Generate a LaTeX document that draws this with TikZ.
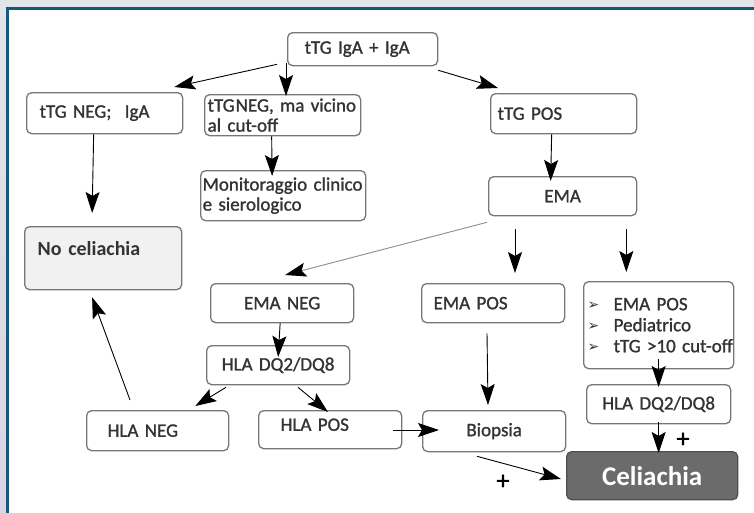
\documentclass[tikz,border=0pt]{standalone}
\usepackage{fontspec}
\setmainfont{Carlito}[WordSpace=0.8, UprightFeatures={RawFeature={embolden=1.2}}]
\newfontfamily\symfont{DejaVu Sans}
\usetikzlibrary{arrows.meta,positioning}
\definecolor{frameblue}{HTML}{14587A}
\definecolor{outertop}{HTML}{E1E4E8}
\definecolor{outerbot}{HTML}{DAD4E4}
\definecolor{edge}{HTML}{777777}
\definecolor{pale}{HTML}{F1F1F1}
\definecolor{dark}{HTML}{6B6B6B}
\definecolor{darkedge}{HTML}{4F4F4F}
\definecolor{faint}{HTML}{8C8C8C}
\definecolor{ink}{HTML}{333333}
\newcommand{\bul}{\makebox[26pt][l]{\raisebox{1pt}{\symfont\fontsize{14}{14}\selectfont ➢}}}
\tikzset{
  box/.style={draw=edge, fill=white, rounded corners=5pt, line width=1.3pt, text=ink,
              anchor=north west, inner ysep=0pt, font=\fontsize{19}{20}\selectfont},
  lbox/.style={box, align=left},
  cbox/.style={box, align=center},
  palebox/.style={lbox, fill=pale, font=\bfseries\fontsize{20}{21}\selectfont},
  darkbox/.style={cbox, fill=dark, draw=darkedge, text=white,
                  font=\bfseries\fontsize{27}{30}\selectfont},
  ar/.style={-{Stealth[length=21pt, width=14pt, inset=4pt, color=black]}, line width=0.9pt, draw=black},
  arlt/.style={ar, draw=faint},
  plus/.style={font=\fontsize{26}{26}\selectfont, inner sep=0pt}
}

\begin{document}
\begin{tikzpicture}[x=1pt, y=-1pt]
  \useasboundingbox (0,0) rectangle (754,512);
  \clip (0,0) rectangle (754,512);
  \shade[top color=outertop, bottom color=outerbot] (0,0) rectangle (754,512);
  \draw[frameblue, line width=3pt, fill=white] (7.5,8.5) rectangle (800,560);

  % first row
  \node[lbox, minimum height=33pt, text width=116pt, inner xsep=17pt] (igA) at (287,32) {tTG IgA + IgA};
  \node[lbox, minimum height=41pt, text width=130pt, inner xsep=13pt] (negiga) at (26,92) {tTG NEG;\hspace{0.7em}IgA};
  \node[lbox, minimum height=41pt, text width=150pt, inner xsep=3pt] (negcut) at (204,94)
        {\mbox{tTG\hspace{1pt}NEG, ma vicino}\\al cut-off};
  \node[lbox, minimum height=40pt, text width=132pt, inner xsep=7pt] (pos) at (490,93) {tTG POS};

  \node[lbox, minimum height=50pt, text width=161pt, inner xsep=2pt] (monit) at (200,170) {Monitoraggio clinico\\e sierologico};
  \node[cbox, minimum height=39pt, text width=138pt, inner xsep=5pt] (ema) at (488,176) {EMA};
  \node[palebox, minimum height=63pt, text width=131pt, inner xsep=13pt, text depth=20pt] (noceli) at (24,226) {No celiachia};

  % EMA results
  \node[cbox, minimum height=39pt, text width=133pt, inner xsep=5pt] (emaneg) at (210,283) {EMA NEG};
  \node[lbox, minimum height=39pt, text width=119pt, inner xsep=12pt] (emapos) at (421,283) {EMA POS};
  \node[lbox, minimum height=87pt, text width=142pt, inner xsep=4pt,
        font=\fontsize{19}{21}\selectfont] (crit) at (583,281)
        {\mbox{\bul EMA POS}\\\mbox{\bul Pediatrico}\\\mbox{\bul tTG >10 cut-off}};

  \node[cbox, minimum height=39pt, text width=133pt, inner xsep=5pt] (hlamid) at (206,345) {HLA DQ2/DQ8};
  \node[cbox, minimum height=39pt, text width=134pt, inner xsep=5pt] (hlaright) at (586,384) {HLA DQ2/DQ8};

  % last row
  \node[lbox, minimum height=40pt, text width=100pt, inner xsep=21pt] (hlaneg) at (86,410) {HLA NEG};
  \node[lbox, minimum height=38pt, text width=99pt, inner xsep=22pt, text depth=10pt] (hlapos) at (258,410) {HLA POS};
  \node[cbox, minimum height=41pt, text width=133pt, inner xsep=5pt] (biopsia) at (422,410) {Biopsia};
  \node[darkbox, minimum height=48pt, text width=161pt, inner xsep=5pt] (celi) at (566,451) {Celiachia};

  \node[plus] (plusa) at (683,440) {+};
  \node[plus] (plusb) at (503,482) {+};

  % arrows
  \draw[ar] ([shift={(-10,-2)}]igA.south west) -- ([shift={(-9,-5)}]negiga.north east);
  \draw[ar] ([shift={(-1,-3)}]igA.south west) -- ([shift={(82,2)}]negcut.north west);
  \draw[ar] ([shift={(0,4)}]igA.south east) -- ([shift={(8,-5)}]pos.north west);
  \draw[ar] ([shift={(-11,0)}]negiga.south) -- ([shift={(-11,-13)}]noceli.north);
  \draw[ar] ([shift={(-11,0)}]negcut.south) -- ([shift={(-11,6)}]monit.north);
  \draw[ar] ([shift={(-12,0)}]pos.south) -- ([shift={(-12,5)}]ema.north);
  \draw[arlt] ([shift={(-1,6)}]ema.south west) -- ([shift={(3,-8)}]emaneg.north);
  \draw[ar] ([shift={(27,13)}]ema.south west) -- ([shift={(94,-10)}]emapos.north west);
  \draw[ar] ([shift={(-11,13)}]ema.south east) -- ([shift={(-11,-9)}]ema.south east |- crit.north);
  \draw[ar] ([shift={(-2,0)}]emaneg.south) -- ([shift={(0,12)}]hlamid.north);
  \draw[ar] ([shift={(20,2)}]hlamid.south west) -- ([shift={(-34,-4)}]hlaneg.north east);
  \draw[ar] ([shift={(92,2)}]hlamid.south west) -- ([shift={(70,2)}]hlapos.north west);
  \draw[ar] ([shift={(44,-10)}]hlaneg.north west) -- ([shift={(-11,7)}]noceli.south);
  \draw[ar] ([shift={(-9,20)}]hlapos.north east) -- ([shift={(17,20)}]biopsia.north west);
  \draw[ar] ([shift={(66,10)}]emapos.south west) -- ([shift={(66,-5)}]biopsia.north west);
  \draw[ar] ([shift={(0,-10)}]crit.south) -- ([shift={(0,3)}]hlaright.north);
  \draw[ar] ([shift={(0,-2)}]hlaright.south) -- ([shift={(0,2)}]hlaright.south |- celi.north);
  \draw[ar] ([shift={(55,4)}]biopsia.south west) -- ([shift={(-5,28)}]celi.north west);
\end{tikzpicture}
\end{document}
